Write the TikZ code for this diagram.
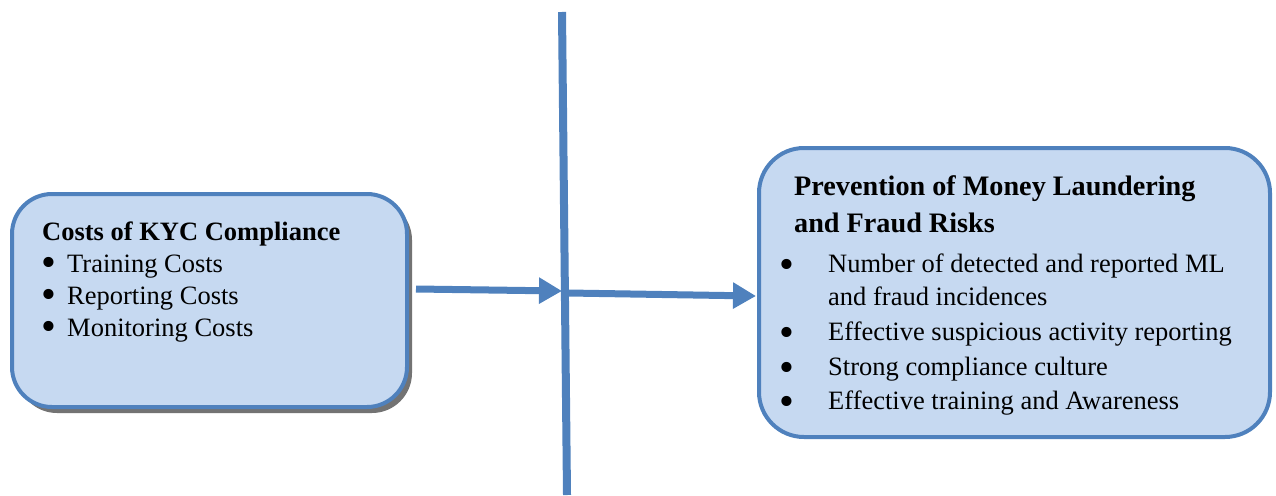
\documentclass[tikz,border=0pt]{standalone}
\usepackage{fontspec}
\setmainfont{Liberation Serif}
\usetikzlibrary{arrows.meta,shadows}
\definecolor{bline}{HTML}{4F81BD}
\definecolor{bfill}{HTML}{C6D9F1}
\newcommand{\lbul}{\llap{\smash{\raisebox{-4.8pt}{\scalebox{1.6}{\textbullet}}}\hspace{10.6pt}}}
\newcommand{\rbul}{\llap{\smash{\raisebox{-6.3pt}{\scalebox{1.6}{\textbullet}}}\hspace{33.6pt}}}
\begin{document}
\begin{tikzpicture}[x=1pt,y=-1pt,
  box/.style={draw=bline, fill=bfill, line width=4pt, inner sep=0pt},
  txt/.style={anchor=base west, inner sep=0pt, font=\fontsize{26.5}{32}\selectfont},
  ttl/.style={anchor=base west, inner sep=0pt, font=\fontsize{28.2}{32}\selectfont\bfseries},
  conn/.style={draw=bline, line width=7pt, -{Triangle[length=23pt,width=25pt]}},
  divider/.style={draw=bline, line width=8pt}]
\useasboundingbox (0,0) rectangle (1276,495);
% boxes
\node[box, rounded corners=40pt, minimum width=395pt, minimum height=213pt,
      drop shadow={shadow xshift=5pt, shadow yshift=-6pt, fill=black!55, opacity=1}]
      (cost) at (209.5,300.5) {};
\node[box, rounded corners=45pt, minimum width=511pt, minimum height=289pt]
      (prev) at (1014.5,292.5) {};
% divider line
\coordinate (vt) at (562,12);
\coordinate (vb) at (567,495);
\draw[divider] (vt) -- (vb);
% arrows
\coordinate (a1s) at (416,289);
\coordinate (a1e) at (562,291);
\coordinate (a2s) at (568,293);
\coordinate (a2e) at (756,296);
\draw[conn] (a1s) -- (a1e);
\draw[conn] (a2s) -- (a2e);
% left text
\node[ttl, font=\fontsize{26.5}{32}\selectfont\bfseries] (lt) at (42,240) {Costs of KYC Compliance};
\node[txt] (l1) at (67,272) {\lbul Training Costs};
\node[txt] (l2) at (67,304) {\lbul Reporting Costs};
\node[txt] (l3) at (67,336) {\lbul Monitoring Costs};
% right text
\node[ttl] (rt1) at (794,195) {Prevention of Money Laundering};
\node[ttl] (rt2) at (794,232) {and Fraud Risks};
\node[txt] (r1) at (828,272) {\rbul Number of detected and reported ML};
\node[txt] (r1b) at (828,305) {and fraud incidences};
\node[txt] (r2) at (828,340) {\rbul Effective suspicious activity reporting};
\node[txt] (r3) at (828,375) {\rbul Strong compliance culture};
\node[txt] (r4) at (828,409) {\rbul Effective training and Awareness};
\end{tikzpicture}
\end{document}
